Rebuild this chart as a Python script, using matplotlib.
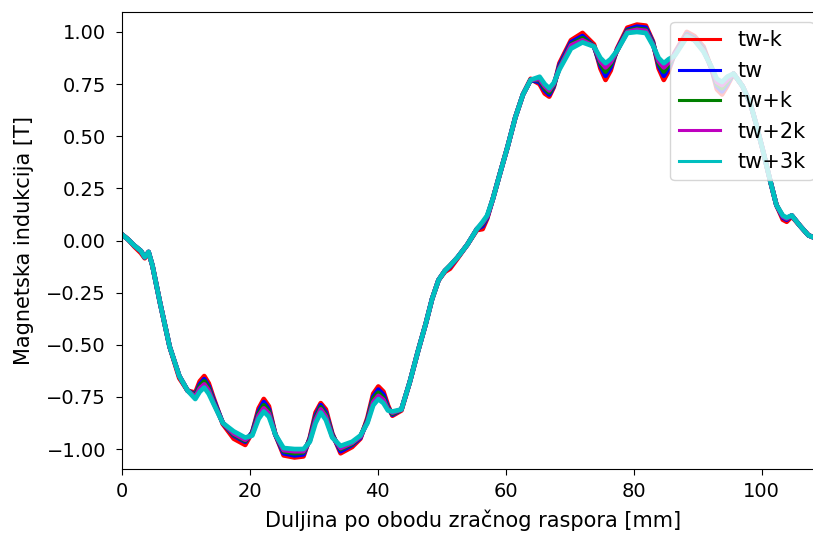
import matplotlib

matplotlib.use("Agg")
import matplotlib.pyplot as plt

# position along the air gap [mm]
x_mm = [
    0, 1, 2, 3, 3.6, 4.2, 4.8, 6, 7.5, 9,
    10.3, 11.5, 12.2, 12.9, 13.6, 14.3, 15.8, 17.5, 19.3, 20.4,
    21.4, 22.2, 23.0, 24.0, 25.3, 27, 28.4, 29.4, 30.3, 31.1,
    31.9, 32.9, 34.2, 36, 37.3, 38.4, 39.3, 40.1, 40.9, 41.6,
    42.3, 43.7, 45, 46.3, 47.5, 48.5, 49.5, 50.5, 51.3, 52.5,
    54, 55.5, 56.4, 57.1, 58, 59, 60.3, 61.5, 62.7, 63.9,
    65.3, 66.1, 66.8, 67.5, 68.4, 70.2, 72, 73.8, 74.8, 75.6,
    76.4, 77.4, 79, 80.5, 81.9, 83.0, 83.9, 84.7, 85.5, 86.4,
    88.3, 89.5, 90.9, 92.2, 93.0, 93.8, 94.6, 95.6, 97, 98.2,
    99.2, 100.2, 101.3, 102.3, 103.3, 103.9, 104.7, 106, 107.3, 108.5,
]

b_tw_minus_k = [
    0.03, 0.005, -0.03, -0.06, -0.085, -0.06, -0.12, -0.30, -0.51, -0.66,
    -0.72, -0.73, -0.675, -0.65, -0.685, -0.75, -0.88, -0.95, -0.98, -0.92,
    -0.805, -0.76, -0.795, -0.93, -1.03, -1.04, -1.035, -0.945, -0.825, -0.78,
    -0.81, -0.925, -1.02, -0.99, -0.95, -0.85, -0.735, -0.70, -0.725, -0.79,
    -0.84, -0.815, -0.68, -0.53, -0.40, -0.28, -0.19, -0.15, -0.135, -0.085,
    -0.02, 0.05, 0.055, 0.105, 0.20, 0.31, 0.45, 0.59, 0.70, 0.775,
    0.75, 0.705, 0.69, 0.735, 0.85, 0.96, 0.995, 0.94, 0.825, 0.77,
    0.815, 0.92, 1.02, 1.035, 1.03, 0.955, 0.825, 0.77, 0.815, 0.90,
    1.00, 0.98, 0.93, 0.82, 0.725, 0.70, 0.74, 0.80, 0.74, 0.66,
    0.55, 0.43, 0.29, 0.17, 0.10, 0.09, 0.115, 0.07, 0.025, 0.01,
]
b_tw = [
    0.03, 0.005, -0.025, -0.05, -0.08, -0.055, -0.12, -0.30, -0.51, -0.65,
    -0.72, -0.74, -0.69, -0.665, -0.70, -0.76, -0.875, -0.935, -0.965, -0.92,
    -0.82, -0.775, -0.81, -0.93, -1.02, -1.03, -1.025, -0.95, -0.84, -0.79,
    -0.825, -0.93, -1.01, -0.98, -0.945, -0.86, -0.75, -0.715, -0.74, -0.80,
    -0.835, -0.81, -0.68, -0.53, -0.40, -0.28, -0.19, -0.145, -0.125, -0.08,
    -0.02, 0.055, 0.07, 0.11, 0.20, 0.31, 0.45, 0.59, 0.70, 0.77,
    0.76, 0.72, 0.70, 0.74, 0.84, 0.95, 0.98, 0.93, 0.84, 0.79,
    0.83, 0.915, 1.01, 1.025, 1.02, 0.95, 0.84, 0.79, 0.83, 0.895,
    0.99, 0.97, 0.92, 0.82, 0.74, 0.715, 0.75, 0.80, 0.74, 0.66,
    0.55, 0.43, 0.29, 0.17, 0.11, 0.10, 0.12, 0.07, 0.025, 0.01,
]
b_tw_plus_k = [
    0.03, 0.005, -0.025, -0.05, -0.08, -0.055, -0.12, -0.30, -0.51, -0.65,
    -0.72, -0.745, -0.70, -0.675, -0.71, -0.77, -0.875, -0.93, -0.96, -0.925,
    -0.83, -0.79, -0.82, -0.93, -1.01, -1.02, -1.015, -0.955, -0.85, -0.80,
    -0.835, -0.935, -1.00, -0.975, -0.94, -0.865, -0.76, -0.73, -0.755, -0.805,
    -0.83, -0.81, -0.68, -0.53, -0.40, -0.28, -0.19, -0.145, -0.12, -0.08,
    -0.02, 0.055, 0.08, 0.115, 0.20, 0.31, 0.45, 0.59, 0.70, 0.77,
    0.77, 0.73, 0.71, 0.745, 0.83, 0.94, 0.97, 0.93, 0.85, 0.81,
    0.845, 0.91, 1.005, 1.015, 1.01, 0.945, 0.85, 0.81, 0.845, 0.89,
    0.985, 0.965, 0.915, 0.825, 0.75, 0.73, 0.76, 0.80, 0.74, 0.66,
    0.55, 0.43, 0.29, 0.17, 0.115, 0.105, 0.12, 0.07, 0.025, 0.01,
]
b_tw_plus_2k = [
    0.03, 0.005, -0.025, -0.05, -0.08, -0.055, -0.12, -0.30, -0.51, -0.65,
    -0.72, -0.75, -0.71, -0.69, -0.72, -0.775, -0.875, -0.925, -0.955, -0.93,
    -0.84, -0.805, -0.83, -0.93, -1.005, -1.01, -1.01, -0.96, -0.86, -0.81,
    -0.845, -0.94, -0.995, -0.97, -0.94, -0.87, -0.775, -0.745, -0.765, -0.81,
    -0.825, -0.81, -0.68, -0.53, -0.40, -0.28, -0.19, -0.145, -0.12, -0.08,
    -0.02, 0.055, 0.085, 0.115, 0.20, 0.31, 0.45, 0.59, 0.70, 0.77,
    0.775, 0.74, 0.72, 0.75, 0.825, 0.935, 0.96, 0.93, 0.86, 0.83,
    0.855, 0.91, 1.00, 1.01, 1.005, 0.94, 0.86, 0.83, 0.855, 0.89,
    0.98, 0.96, 0.91, 0.825, 0.76, 0.745, 0.77, 0.80, 0.74, 0.66,
    0.55, 0.43, 0.29, 0.17, 0.115, 0.105, 0.12, 0.07, 0.025, 0.01,
]
b_tw_plus_3k = [
    0.03, 0.005, -0.025, -0.05, -0.08, -0.055, -0.12, -0.30, -0.51, -0.65,
    -0.72, -0.76, -0.725, -0.705, -0.735, -0.78, -0.875, -0.915, -0.945, -0.935,
    -0.855, -0.82, -0.845, -0.93, -0.995, -1.00, -1.00, -0.965, -0.875, -0.825,
    -0.86, -0.945, -0.985, -0.965, -0.935, -0.875, -0.79, -0.76, -0.78, -0.815,
    -0.82, -0.81, -0.68, -0.53, -0.40, -0.28, -0.19, -0.145, -0.12, -0.08,
    -0.02, 0.055, 0.09, 0.12, 0.20, 0.31, 0.45, 0.59, 0.70, 0.77,
    0.785, 0.75, 0.73, 0.755, 0.82, 0.92, 0.95, 0.93, 0.875, 0.85,
    0.87, 0.91, 0.995, 1.00, 0.995, 0.935, 0.875, 0.85, 0.87, 0.885,
    0.975, 0.96, 0.905, 0.83, 0.775, 0.76, 0.785, 0.80, 0.74, 0.66,
    0.55, 0.43, 0.29, 0.17, 0.12, 0.11, 0.12, 0.07, 0.025, 0.01,
]

labels = ["tw-k", "tw", "tw+k", "tw+2k", "tw+3k"]
series = [b_tw_minus_k, b_tw, b_tw_plus_k, b_tw_plus_2k, b_tw_plus_3k]
colors = ["r", "b", "g", "m", "c"]

W, H = 813, 537
fig = plt.figure(figsize=(W / 100, H / 100), dpi=100)
# axes box in pixels; the right edge runs a little past the image
left, right, top, bottom = 121.7, 824, 11.7, 469.3
ax = fig.add_axes([left / W, 1 - bottom / H, (right - left) / W, (bottom - top) / H])

for y, lab, col in zip(series, labels, colors):
    ax.plot(x_mm, y, color=col, lw=3.4, label=lab)

ax.set_xlim(0, (right - left) / 6.40)
ax.set_ylim(-1.097, 1.097)
ax.set_yticks([-1.0, -0.75, -0.5, -0.25, 0.0, 0.25, 0.5, 0.75, 1.0])
ax.set_xticks([0, 20, 40, 60, 80, 100])
ax.tick_params(labelsize=14, length=4.3)
ax.tick_params(axis="y", pad=7)
ax.tick_params(axis="x", pad=5)
ax.set_xlabel("Duljina po obodu zračnog raspora [mm]", fontsize=15, labelpad=6)
ax.set_ylabel("Magnetska indukcija [T]", fontsize=15, labelpad=9)

leg = ax.legend(loc="upper right", fontsize=15)
for ln in leg.get_lines():
    ln.set_linewidth(2.2)

fig.savefig("out.png", dpi=100)
